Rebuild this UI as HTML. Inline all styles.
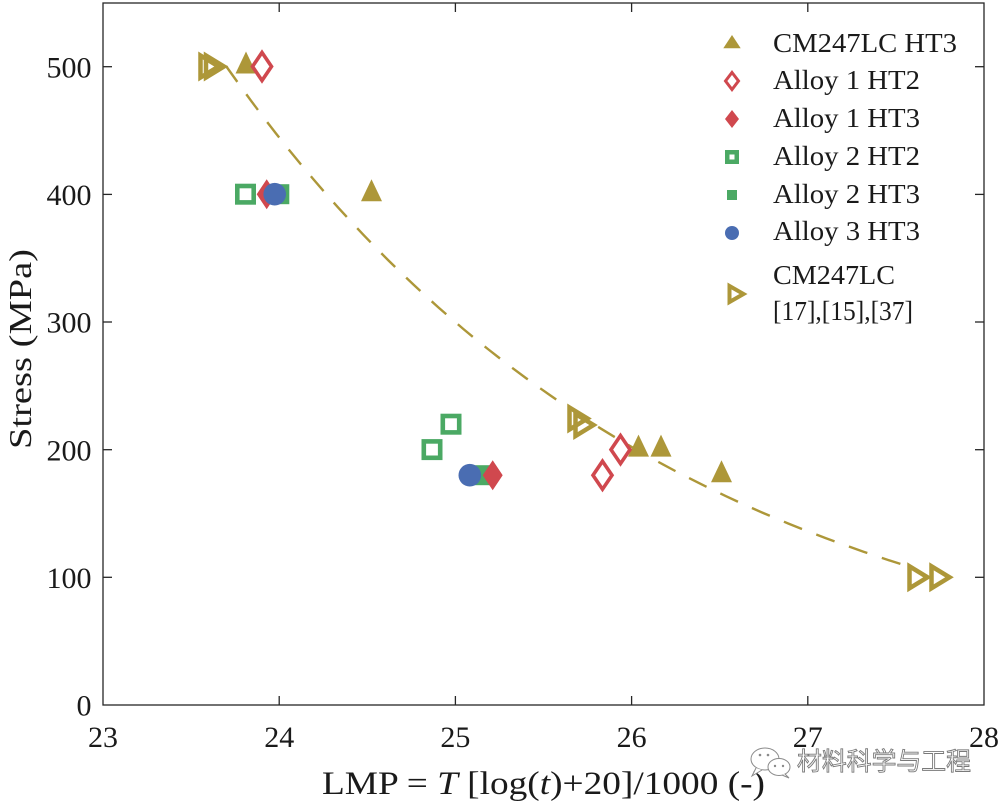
<!DOCTYPE html>
<html>
<head>
<meta charset="utf-8">
<style>
  html,body{margin:0;padding:0;background:#fff;}
  svg{display:block;}
  text{font-family:"Liberation Serif","DejaVu Serif",serif;fill:#1a1a1a;}
</style>
</head>
<body>
<svg width="1004" height="805" viewBox="0 0 1004 805" xmlns="http://www.w3.org/2000/svg">
  <rect x="0" y="0" width="1004" height="805" fill="#fff"/>

  <!-- axes box -->
  <rect x="103" y="3" width="881" height="702" fill="none" stroke="#262626" stroke-width="1.3"/>

  <!-- ticks -->
  <g stroke="#262626" stroke-width="1.3">
    <line x1="279.2" y1="705" x2="279.2" y2="696"/>
    <line x1="455.4" y1="705" x2="455.4" y2="696"/>
    <line x1="631.6" y1="705" x2="631.6" y2="696"/>
    <line x1="807.8" y1="705" x2="807.8" y2="696"/>
    <line x1="279.2" y1="3" x2="279.2" y2="12"/>
    <line x1="455.4" y1="3" x2="455.4" y2="12"/>
    <line x1="631.6" y1="3" x2="631.6" y2="12"/>
    <line x1="807.8" y1="3" x2="807.8" y2="12"/>
    <line x1="103" y1="577.3" x2="112" y2="577.3"/>
    <line x1="103" y1="449.7" x2="112" y2="449.7"/>
    <line x1="103" y1="322" x2="112" y2="322"/>
    <line x1="103" y1="194.4" x2="112" y2="194.4"/>
    <line x1="103" y1="66.7" x2="112" y2="66.7"/>
    <line x1="984" y1="577.3" x2="975" y2="577.3"/>
    <line x1="984" y1="449.7" x2="975" y2="449.7"/>
    <line x1="984" y1="322" x2="975" y2="322"/>
    <line x1="984" y1="194.4" x2="975" y2="194.4"/>
    <line x1="984" y1="66.7" x2="975" y2="66.7"/>
  </g>

  <!-- y tick labels -->
  <g font-size="30" text-anchor="end">
    <text x="91.5" y="715.6">0</text>
    <text x="91.5" y="587.9">100</text>
    <text x="91.5" y="460.3">200</text>
    <text x="91.5" y="332.6">300</text>
    <text x="91.5" y="205">400</text>
    <text x="91.5" y="77.3">500</text>
  </g>
  <!-- x tick labels -->
  <g font-size="30" text-anchor="middle">
    <text x="103" y="747">23</text>
    <text x="279.2" y="747">24</text>
    <text x="455.4" y="747">25</text>
    <text x="631.6" y="747">26</text>
    <text x="807.8" y="747">27</text>
    <text x="984" y="747">28</text>
  </g>

  <!-- axis labels -->
  <text transform="translate(31,349) rotate(-90)" font-size="32" text-anchor="middle" textLength="200" lengthAdjust="spacingAndGlyphs">Stress (MPa)</text>
  <text x="322" y="794" font-size="33" textLength="443" lengthAdjust="spacingAndGlyphs">LMP = <tspan font-style="italic">T</tspan> [log(<tspan font-style="italic">t</tspan>)+20]/1000 (-)</text>

  <!-- dashed fit curve -->
  <polyline fill="none" stroke="#ad9739" stroke-width="2.4" stroke-dasharray="19.5 15.3" points="226,66.0 238.5,83.5 251,100.7 263.5,117.3 276,133.5 288.5,149.2 301,164.5 313.5,179.4 326,193.9 338.5,207.9 351,221.6 363.5,234.9 376,247.9 388.5,260.5 401,272.7 413.5,284.6 426,296.2 438.5,307.5 451,318.4 463.5,329.1 476,339.5 488.5,349.5 501,359.3 513.5,368.8 526,378.1 538.5,387.1 551,395.9 563.5,404.4 576,412.7 588.5,420.8 601,428.7 613.5,436.3 626,443.7 638.5,450.9 651,457.9 663.5,464.7 676,471.4 688.5,477.8 701,484.1 713.5,490.2 726,496.2 738.5,502.0 751,507.6 763.5,513.1 776,518.4 788.5,523.6 801,528.6 813.5,533.5 826,538.2 838.5,542.8 851,547.3 863.5,551.7 876,556.0 888.5,560.1 901,564.1 915,568.4"/>

  <!-- CM247LC refs (open right triangles) -->
  <g fill="none" stroke="#ad9739" stroke-width="4.5" stroke-linejoin="miter">
    <path d="M200.5,55.5 L218.5,66.5 L200.5,77.5 Z"/>
    <path d="M206,55.5 L224,66.5 L206,77.5 Z"/>
    <path d="M569.5,407.5 L587.5,418.5 L569.5,429.5 Z"/>
    <path d="M575.5,414 L593.5,425 L575.5,436 Z"/>
    <path d="M909.5,566.3 L927.5,577.3 L909.5,588.3 Z"/>
    <path d="M931.5,566.3 L949.5,577.3 L931.5,588.3 Z"/>
  </g>

  <!-- CM247LC HT3 (filled triangles) -->
  <g fill="#ad9739">
    <path d="M246,51.5 L256.5,73.5 L235.5,73.5 Z"/>
    <path d="M371.5,179.2 L382,201.2 L361,201.2 Z"/>
    <path d="M638.5,434.6 L649,456.6 L628,456.6 Z"/>
    <path d="M661,434.6 L671.5,456.6 L650.5,456.6 Z"/>
    <path d="M721.5,460.2 L732,482.2 L711,482.2 Z"/>
  </g>

  <!-- Alloy 2 HT2 (open squares) -->
  <g fill="none" stroke="#4ba964" stroke-width="4.6">
    <rect x="237.3" y="186" width="16.4" height="16.4"/>
    <rect x="423.8" y="441.4" width="16.4" height="16.4"/>
    <rect x="442.8" y="416" width="16.4" height="16.4"/>
  </g>
  <!-- Alloy 2 HT3 (filled squares) -->
  <g fill="#4ba964">
    <rect x="269.3" y="184.2" width="20" height="20"/>
    <rect x="471.7" y="465.2" width="20" height="20"/>
  </g>

  <!-- Alloy 1 HT2 (open diamonds) -->
  <g fill="none" stroke="#d0484e" stroke-width="3.6" stroke-linejoin="miter">
    <path d="M262,52.5 L271.5,66.5 L262,80.5 L252.5,66.5 Z"/>
    <path d="M620.5,435.6 L630,449.6 L620.5,463.6 L611,449.6 Z"/>
    <path d="M602.5,461.2 L612,475.2 L602.5,489.2 L593,475.2 Z"/>
  </g>
  <!-- Alloy 1 HT3 (filled diamonds) -->
  <g fill="#d0484e">
    <path d="M266.7,179.2 L276.7,194.2 L266.7,209.2 L256.7,194.2 Z"/>
    <path d="M492.7,460.2 L502.7,475.2 L492.7,490.2 L482.7,475.2 Z"/>
  </g>

  <!-- Alloy 3 HT3 (circles) -->
  <g fill="#4a6db2">
    <circle cx="274.7" cy="194.2" r="11.3"/>
    <circle cx="469.8" cy="475.2" r="11.3"/>
  </g>

  <!-- legend -->
  <path d="M732,35 L740.7,48.3 L723.3,48.3 Z" fill="#ad9739"/>
  <path d="M732,72.5 L738.5,81 L732,89.5 L725.5,81 Z" fill="none" stroke="#d0484e" stroke-width="3"/>
  <path d="M732,110 L739,119 L732,128 L725,119 Z" fill="#d0484e"/>
  <rect x="727.25" y="152.25" width="9.5" height="9.5" fill="none" stroke="#4ba964" stroke-width="4.5"/>
  <rect x="727" y="190" width="10" height="10" fill="#4ba964"/>
  <circle cx="732" cy="233" r="7" fill="#4a6db2"/>
  <path d="M729.5,286 L743.5,294 L729.5,302 Z" fill="none" stroke="#ad9739" stroke-width="4"/>

  <g font-size="27">
    <text x="773" y="52" textLength="184" lengthAdjust="spacingAndGlyphs">CM247LC HT3</text>
    <text x="773" y="89" textLength="147" lengthAdjust="spacingAndGlyphs">Alloy 1 HT2</text>
    <text x="773" y="127" textLength="147" lengthAdjust="spacingAndGlyphs">Alloy 1 HT3</text>
    <text x="773" y="165" textLength="147" lengthAdjust="spacingAndGlyphs">Alloy 2 HT2</text>
    <text x="773" y="203" textLength="147" lengthAdjust="spacingAndGlyphs">Alloy 2 HT3</text>
    <text x="773" y="240" textLength="147" lengthAdjust="spacingAndGlyphs">Alloy 3 HT3</text>
    <text x="773" y="284" textLength="122" lengthAdjust="spacingAndGlyphs">CM247LC</text>
    <text x="773" y="320" textLength="140" lengthAdjust="spacingAndGlyphs">[17],[15],[37]</text>
  </g>

  <!-- watermark -->
  <g fill="#fff" stroke="#8a8a8a" stroke-width="1">
    <ellipse cx="765" cy="759" rx="14" ry="11"/>
    <path d="M756,768 L752,776 L762,770" />
    <ellipse cx="779" cy="767" rx="11" ry="8.5"/>
    <path d="M785,774 L789,778 L782,775"/>
  </g>
  <g fill="#8a8a8a">
    <circle cx="760" cy="755" r="1.3"/>
    <circle cx="768" cy="755" r="1.3"/>
    <circle cx="775" cy="766" r="1.2"/>
    <circle cx="783" cy="766" r="1.2"/>
  </g>
  <text x="797" y="770" font-size="25" textLength="174" lengthAdjust="spacingAndGlyphs" style="font-family:'Noto Sans CJK SC','WenQuanYi Zen Hei',sans-serif;fill:#fff;stroke:#7a7a7a;stroke-width:0.9;">材料科学与工程</text>
</svg>
</body>
</html>
